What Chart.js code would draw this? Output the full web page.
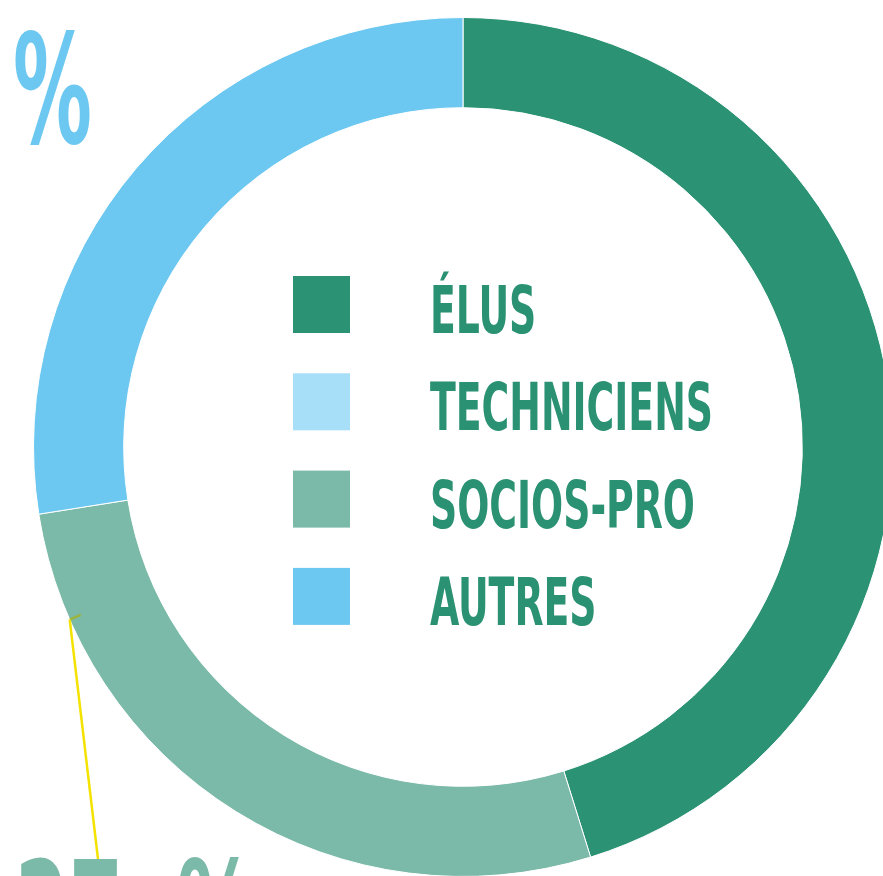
<!DOCTYPE html>
<html>
<head>
  <title>Répartition</title>
  <script src="https://cdn.jsdelivr.net/npm/chart.js"></script>
  <style>
    html, body { margin: 0; padding: 0; background: #fff; overflow: hidden; width: 883px; height: 876px; }
    #chart { position: absolute; left: 0; top: 0; }
  </style>
</head>
<body>
  <canvas id="chart" width="926" height="894"></canvas>

  <script>
    // données
    const labels = ['ÉLUS', 'TECHNICIENS', 'SOCIOS-PRO', 'AUTRES'];
    const values = [45.2, 0, 27.3, 27.5];
    const colors = ['#2b9273', '#a7dff8', '#7bb9a8', '#6dc8f1'];
    const textColor = '#2a9172';
    const leaderColor = '#f4e200';
    const fontFamily = '"Liberation Sans Narrow", "DejaVu Sans Condensed", sans-serif';

    // texte étiré horizontalement pour imiter la police condensée
    function stretchText(ctx, txt, x, y, sx, align) {
      ctx.save();
      ctx.translate(x, y);
      ctx.scale(sx, 1);
      ctx.textAlign = align || 'left';
      ctx.fillText(txt, 0, 0);
      ctx.restore();
    }

    const decor = {
      id: 'decor',
      afterDraw(chart) {
        const ctx = chart.ctx;
        const arc = chart.getDatasetMeta(0).data[0];
        const cx = arc.x, cy = arc.y, R = arc.outerRadius;

        // légende au centre
        ctx.save();
        ctx.font = 'bold 66px ' + fontFamily;
        const sx = 283 / ctx.measureText('TECHNICIENS').width;
        labels.forEach((lab, i) => {
          const top = cy - 171 + i * 97.3;
          ctx.fillStyle = colors[i];
          ctx.fillRect(cx - 170, top, 57, 57);
          ctx.fillStyle = textColor;
          stretchText(ctx, lab, cx - 33, top + 57, sx);
        });
        ctx.restore();

        // trait de rappel vers socios-pro
        const a = (246.3 - 90) * Math.PI / 180;
        const x0 = cx + Math.cos(a) * (R - 12), y0 = cy + Math.sin(a) * (R - 12);
        const xr = cx + Math.cos(a) * R, yr = cy + Math.sin(a) * R;
        ctx.save();
        ctx.lineWidth = 2.5;
        ctx.strokeStyle = '#9bb43e';
        ctx.beginPath(); ctx.moveTo(x0, y0); ctx.lineTo(xr, yr); ctx.stroke();
        ctx.strokeStyle = leaderColor;
        ctx.beginPath(); ctx.moveTo(xr, yr); ctx.lineTo(100, 876); ctx.stroke();
        ctx.restore();

        // pourcentages
        ctx.save();
        ctx.font = 'bold 152px ' + fontFamily;
        const ps = 79 / ctx.measureText('%').width;
        ctx.fillStyle = colors[3];
        stretchText(ctx, Math.round(values[3]) + ' %', 92, 143, ps, 'right');

        ctx.fillStyle = colors[2];
        const num = String(Math.round(values[2]));
        const ns = 108 / ctx.measureText(num).width;
        stretchText(ctx, num, 15, 970, ns);
        stretchText(ctx, '%', 177, 970, ps);
        ctx.restore();
      }
    };

    new Chart(document.getElementById('chart').getContext('2d'), {
      type: 'doughnut',
      data: {
        labels,
        datasets: [{
          data: values,
          backgroundColor: colors,
          borderColor: '#ffffff',
          borderWidth: 1
        }]
      },
      options: {
        responsive: false,
        animation: false,
        cutout: '79%',
        layout: { padding: { left: 33, right: 33, top: 17, bottom: 17 } },
        plugins: {
          legend: { display: false },
          tooltip: { enabled: false }
        }
      },
      plugins: [decor]
    });
  </script>
</body>
</html>
